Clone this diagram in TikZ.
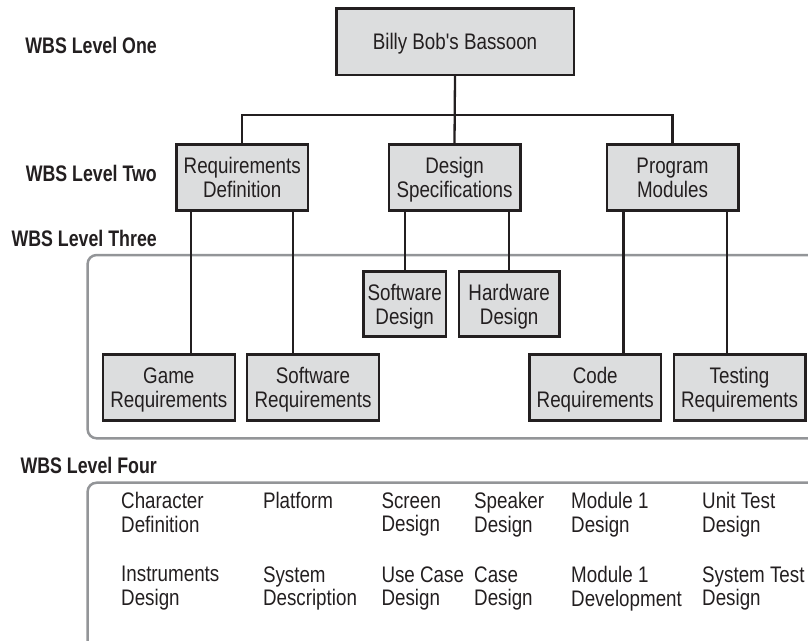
\documentclass[tikz,border=0pt]{standalone}
\usepackage{fontspec}
\newfontfamily\boxfont{Liberation Sans}[FakeStretch=0.835]
\newfontfamily\levelfont{Liberation Sans}[FakeStretch=0.79]
\definecolor{ink}{HTML}{231F20}
\definecolor{boxfill}{HTML}{DCDDDE}
\definecolor{framegray}{HTML}{939598}

\begin{document}
\begin{tikzpicture}[x=1pt,y=-1pt,
  wbsbox/.style={draw=ink, fill=boxfill, line width=2.5pt, inner sep=0pt,
    align=center, text=ink, font=\boxfont\fontsize{22.5}{24}\selectfont},
  wide/.style={minimum width=131.5pt, minimum height=65.9pt},
  levellabel/.style={anchor=base east, inner sep=0pt, text=ink,
    font=\levelfont\bfseries\fontsize{22.5}{24}\selectfont},
  item/.style={anchor=north west, inner sep=0pt, align=left, text=ink,
    font=\boxfont\fontsize{22.5}{23.5}\selectfont},
  link/.style={draw=ink, line width=2.3pt},
  frame/.style={draw=framegray, line width=2.5pt, rounded corners=9pt}
]
\useasboundingbox (0,0) rectangle (808,640);
\clip (0,0) rectangle (808,640);

% grey frames around levels three and four
\draw[frame] (87.6,255) rectangle (850,438.3);
\draw[frame] (87.6,482.7) rectangle (850,700);

% level labels
\node[levellabel] (l1) at (157,53.3) {WBS Level One};
\node[levellabel] (l2) at (157,181.3) {WBS Level Two};
\node[levellabel] (l3) at (157,246.3) {WBS Level Three};
\node[levellabel] (l4) at (157,473) {WBS Level Four};

% level one
\node[wbsbox, minimum width=237.5pt, minimum height=66.2pt, text depth=0pt]
  (top) at (455,41.7) {Billy Bob's Bassoon};

% level two
\node[wbsbox, wide] (rd) at (242.2,177.5) {Requirements\\\smash{Definition}};
\node[wbsbox, wide] (ds) at (454.5,177.5) {Design\\\smash{Specifications}};
\node[wbsbox, wide] (pm) at (672.5,177.5) {Program\\\smash{Modules}};

% level three
\node[wbsbox, minimum width=82.8pt, minimum height=65.2pt]
  (sd) at (404.7,303.9) {Software\\\smash{Design}};
\node[wbsbox, minimum width=100.5pt, minimum height=65.2pt]
  (hd) at (509.2,303.9) {Hardware\\\smash{Design}};
\node[wbsbox, minimum width=132pt, minimum height=65.9pt]
  (gr) at (168.8,387.5) {Game\\\smash{Requirements}};
\node[wbsbox, minimum width=132pt, minimum height=65.9pt]
  (sr) at (313,387.5) {Software\\\smash{Requirements}};
\node[wbsbox, wide] (cr) at (595.2,387.5) {Code\\\smash{Requirements}};
\node[wbsbox, wide] (tr) at (739.5,387.5) {Testing\\\smash{Requirements}};

% level four work packages
\node[item] (c1a) at (121,492.3) {Character\\Definition};
\node[item] (c1b) at (121,566.3) {Instruments\\Design};
\node[item] (c2a) at (262.8,492.3) {Platform};
\node[item] (c2b) at (262.8,566.3) {System\\Description};
\node[item] (c3a) at (381.3,492.3) {Screen\\Design};
\node[item] (c3b) at (381.3,566.3) {Use Case\\Design};
\node[item] (c4a) at (474,492.3) {Speaker\\Design};
\node[item] (c4b) at (474,566.3) {Case\\Design};
\node[item] (c5a) at (571,492.3) {Module 1\\Design};
\node[item] (c5b) at (571,566.3) {Module 1\\Development};
\node[item] (c6a) at (702,492.3) {Unit Test\\Design};
\node[item] (c6b) at (702,566.3) {System Test\\Design};

% tie points for the branches
\coordinate (bus) at (455,115);
\coordinate (xgr) at (190.7,0);
\coordinate (xsr) at (292.7,0);
\coordinate (xcr) at (623.5,0);
\coordinate (xtr) at (727.1,0);

% level one to level two
\draw[link] (top.south) -- (ds.north);
\draw[link] (rd.north) |- (bus) -| (pm.north);

% level two to level three
\draw[link] (rd.south -| xgr) -- (gr.north -| xgr);
\draw[link] (rd.south -| xsr) -- (sr.north -| xsr);
\draw[link] (ds.south -| sd.north) -- (sd.north);
\draw[link] (ds.south -| hd.north) -- (hd.north);
\draw[link] (pm.south -| xcr) -- (cr.north -| xcr);
\draw[link] (pm.south -| xtr) -- (tr.north -| xtr);
\end{tikzpicture}
\end{document}
